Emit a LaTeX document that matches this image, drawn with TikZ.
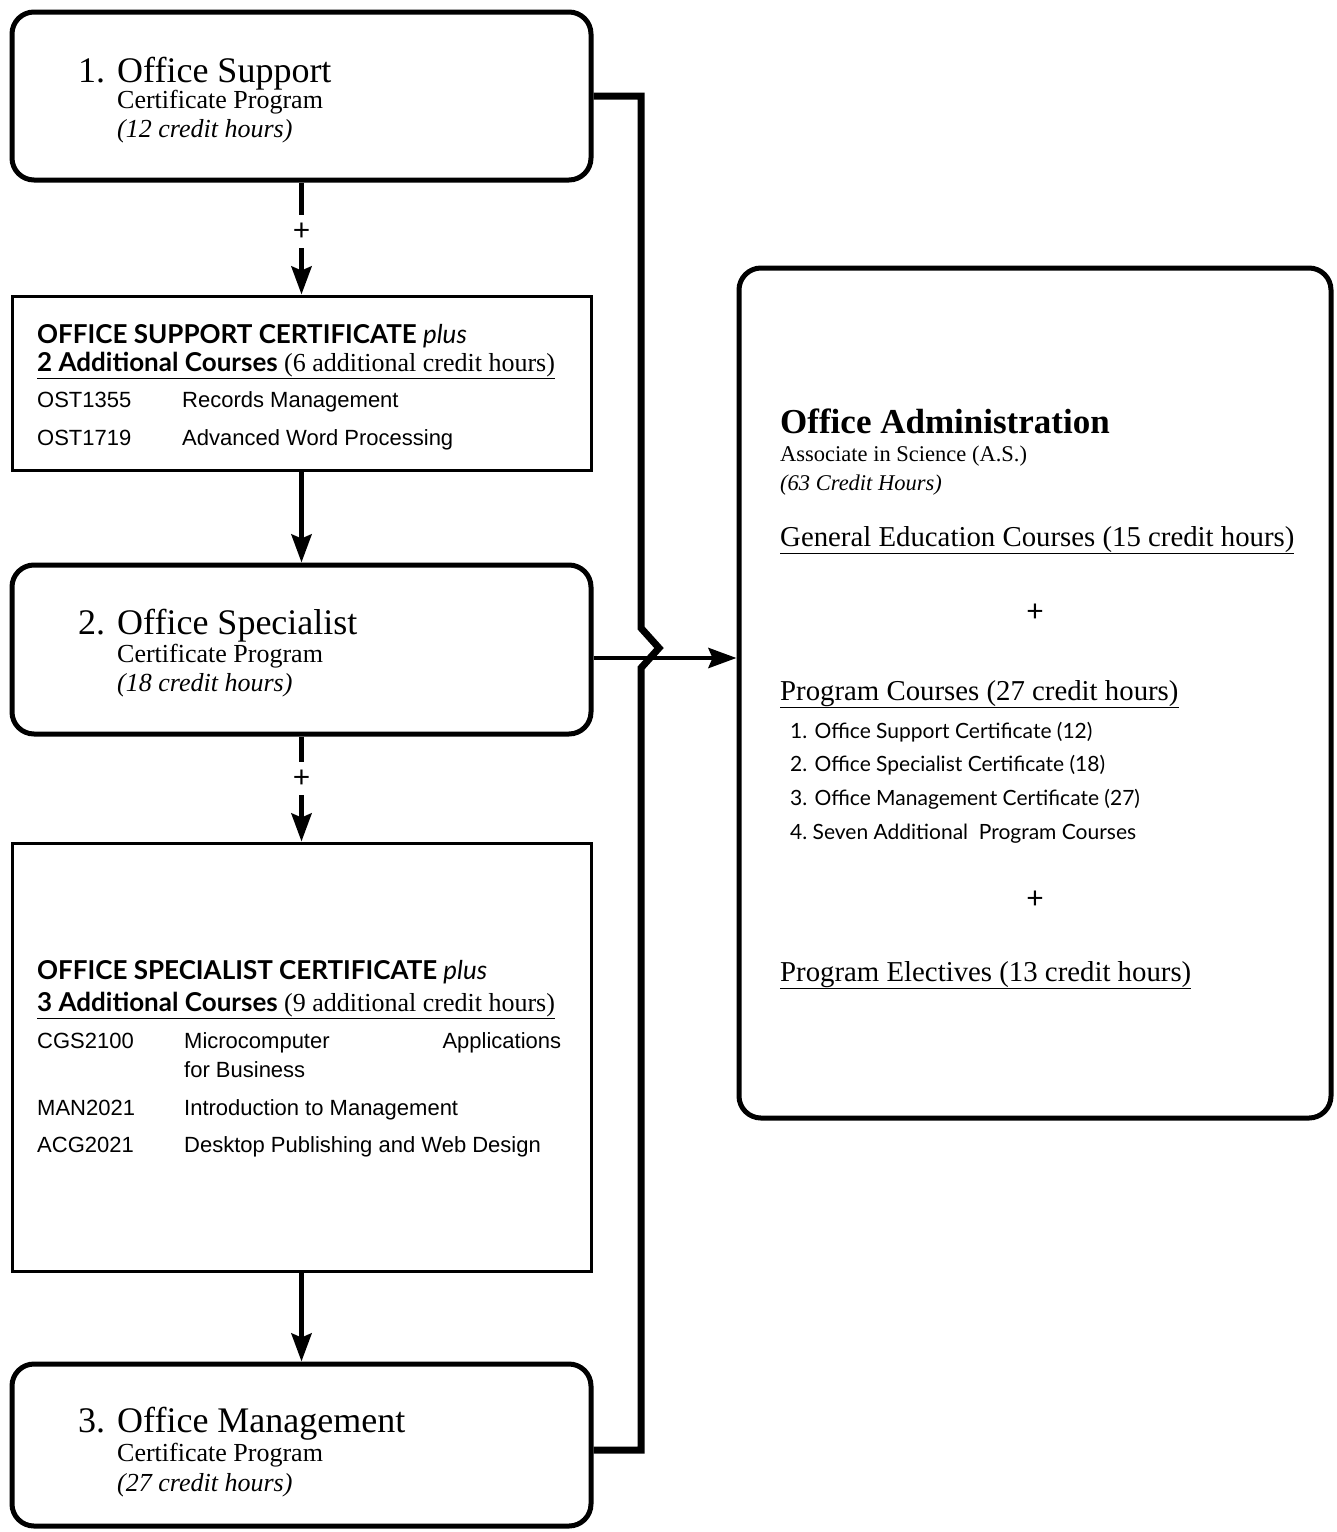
\documentclass[tikz,border=0pt]{standalone}
\usepackage{fontspec}
\setmainfont{Liberation Serif}
\newfontfamily\gillfont{Lato}
\newfontfamily\arialfont{Liberation Sans}
\usetikzlibrary{arrows.meta,fit,positioning}

\newcommand\bigname{\fontsize{36}{40}\selectfont}
\newcommand\subname{\fontsize{26}{30}\selectfont}
\newcommand\degname{\fontsize{22.5}{27}\selectfont}
\newcommand\headname{\fontsize{26}{30}\selectfont\gillfont}
\newcommand\coursename{\fontsize{22}{26}\selectfont\arialfont}
\newcommand\sectname{\fontsize{28.8}{32}\selectfont}
\newcommand\listname{\fontsize{21}{25}\selectfont\gillfont}
\newcommand\plusname{\fontsize{30}{32}\selectfont\gillfont}

\begin{document}
\begin{tikzpicture}[x=1pt,y=-1pt,>={Stealth[length=28pt,width=20pt,inset=4pt]},
                    line join=miter]
  \tikzset{rbox/.style={draw,line width=5pt,rounded corners=22pt,inner sep=0pt},
           sbox/.style={draw,line width=3pt,inner sep=0pt},
           flow/.style={->,line width=5pt},
           feedline/.style={->,line width=4.5pt},
           bus/.style={line width=7pt},
           gap/.style={fill=white,inner sep=0pt,minimum width=18pt,minimum height=33pt,
                       font=\plusname},
           txt/.style={anchor=base west,inner sep=0pt}}

  \useasboundingbox (0,0) rectangle (1337,1532);

  % boxes
  \node[rbox,fit={(12,12) (591,180)}]      (sup)  {};
  \node[sbox,fit={(12,296) (591,470)}]     (supx) {};
  \node[rbox,fit={(12,565) (591,734)}]     (spec) {};
  \node[sbox,fit={(12,843) (591,1271)}]    (specx) {};
  \node[rbox,fit={(12,1364) (591,1526)}]   (mgt)  {};
  \node[rbox,fit={(739,268) (1331,1118)}]  (adm)  {};

  % 1. office support
  \node[txt] at (78,82)  {\bigname 1. Office Support};
  \node[txt] at (117,108) {\subname Certificate Program};
  \node[txt] at (117,137) {\subname\itshape (12 credit hours)};

  % support plus courses
  \node[txt] at (37,343) {\headname\bfseries OFFICE SUPPORT CERTIFICATE \mdseries\itshape plus};
  \node[txt] at (37,371) {\underline{{\headname\bfseries 2 Additional Courses}{\subname\ (6 additional credit hours)}}};
  \node[txt] at (37,407)  {\coursename OST1355};
  \node[txt] at (182,407) {\coursename Records Management};
  \node[txt] at (37,445)  {\coursename OST1719};
  \node[txt] at (182,445) {\coursename Advanced Word Processing};

  % 2. office specialist
  \node[txt] at (78,634)  {\bigname 2. Office Specialist};
  \node[txt] at (117,662) {\subname Certificate Program};
  \node[txt] at (117,691) {\subname\itshape (18 credit hours)};

  % specialist plus courses
  \node[txt] at (37,979) {\headname\bfseries OFFICE SPECIALIST CERTIFICATE \mdseries\itshape plus};
  \node[txt] at (37,1011) {\underline{{\headname\bfseries 3 Additional Courses}{\subname\ (9 additional credit hours)}}};
  \node[txt] at (37,1048)  {\coursename CGS2100};
  \node[txt,text width=377pt] at (184,1048) {\coursename Microcomputer\hfill Applications};
  \node[txt] at (184,1077) {\coursename for Business};
  \node[txt] at (37,1115)  {\coursename MAN2021};
  \node[txt] at (184,1115) {\coursename Introduction to Management};
  \node[txt] at (37,1152)  {\coursename ACG2021};
  \node[txt] at (184,1152) {\coursename Desktop Publishing and Web Design};

  % 3. office management
  \node[txt] at (78,1432)  {\bigname 3. Office Management};
  \node[txt] at (117,1461) {\subname Certificate Program};
  \node[txt] at (117,1491) {\subname\itshape (27 credit hours)};

  % degree
  \node[txt] at (780,433) {\fontsize{35}{40}\selectfont\bfseries Office Administration};
  \node[txt] at (780,461) {\degname Associate in Science (A.S.)};
  \node[txt] at (780,490) {\degname\itshape (63 Credit Hours)};
  \node[txt] at (780,546) {\sectname\underline{General Education Courses (15 credit hours)}};
  \node (plusA) at (1035,613) {\plusname +};
  \node[txt] at (780,700) {\sectname\underline{Program Courses (27 credit hours)}};
  \node[txt] at (790,738) {\listname 1. Office Support Certificate (12)};
  \node[txt] at (790,771) {\listname 2. Office Specialist Certificate (18)};
  \node[txt] at (790,805) {\listname 3. Office Management Certificate (27)};
  \node[txt] at (790,839) {\listname 4.\ Seven Additional\ \ Program Courses};
  \node (plusB) at (1035,900) {\plusname +};
  \node[txt] at (780,981) {\sectname\underline{Program Electives (13 credit hours)}};

  % arrows down the left column
  \draw[flow] (sup.south) -- node[gap,pos=0.44] {+} (supx.north);
  \draw[flow] (supx.south) -- (spec.north);
  \draw[flow] (spec.south) -- node[gap,pos=0.40] {+} (specx.north);
  \draw[flow] (specx.south) -- (mgt.north);

  % bus to the degree box
  \coordinate (feed)   at (600,658);
  \coordinate (jumpA)  at (641,628);
  \coordinate (jumpB)  at (659,648);
  \coordinate (jumpC)  at (641,668);
  \coordinate (busLow) at (641,1450);
  \draw[bus] (sup.east) -- (sup.east -| jumpA) -- (jumpA) -- (jumpB) -- (jumpC)
             -- (busLow) -- (mgt.east |- busLow);
  \draw[feedline] (spec.east |- feed) -- (adm.west |- feed);

\end{tikzpicture}
\end{document}
